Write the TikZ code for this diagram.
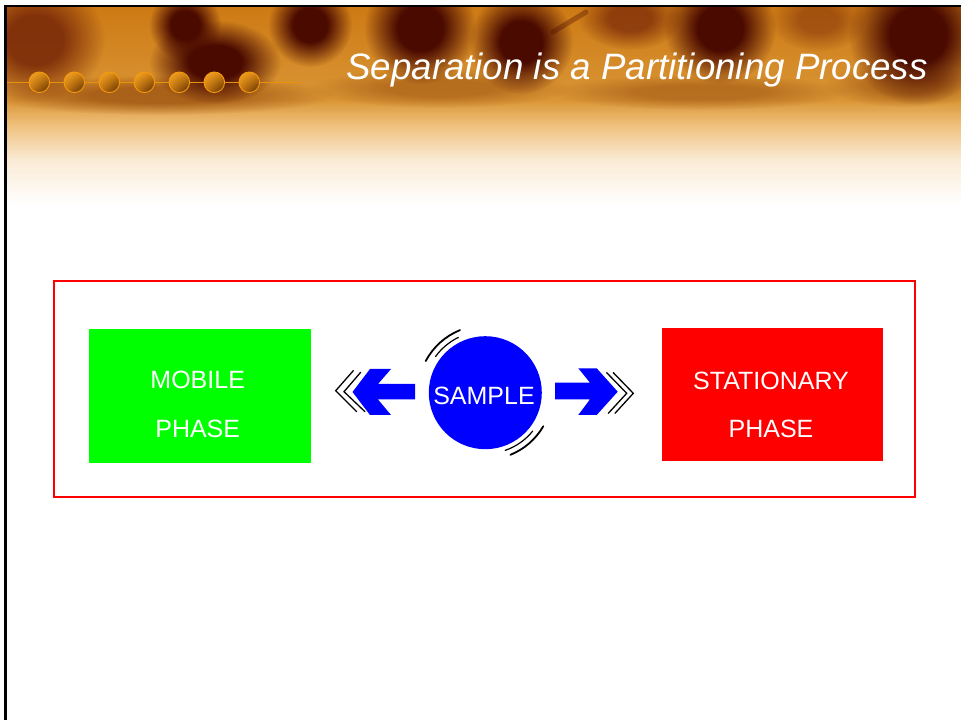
\documentclass[tikz,border=0pt]{standalone}
\usepackage{fontspec}
\setmainfont{Liberation Sans}
\usetikzlibrary{fadings,shadings}
\pgfdeclareradialshading{blobshading}{\pgfpointorigin}{color(0bp)=(pgftransparent!0); color(10bp)=(pgftransparent!0); color(25bp)=(pgftransparent!100); color(50bp)=(pgftransparent!100)}
\pgfdeclarefading{softblob}{\pgfuseshading{blobshading}}
\definecolor{hdrbase}{HTML}{CD7A14}
\definecolor{hdrlow}{HTML}{DA9636}
\definecolor{hdrtan}{HTML}{EFC07C}
\definecolor{hdrpale}{HTML}{FAEBD5}
\definecolor{blobdark}{HTML}{4A0A00}
\definecolor{blobmid}{HTML}{7A2A08}
\definecolor{shadowbrown}{HTML}{9A5010}
\definecolor{dotline}{HTML}{E8920A}
\definecolor{dotedge}{HTML}{F39A0C}
\definecolor{dotUL}{HTML}{F8AA28}
\definecolor{dotUR}{HTML}{D7820F}
\definecolor{dotLL}{HTML}{C8730C}
\definecolor{dotLR}{HTML}{502600}
\definecolor{phasegreen}{HTML}{00FF00}
\tikzset{
  dotball/.style={circle, minimum size=20.6, draw=dotedge, line width=0.9,
    upper left=dotUL, upper right=dotUR, lower left=dotLL, lower right=dotLR},
  phasebox/.style={rectangle, minimum width=221.5, minimum height=133.2},
  boxtext/.style={text=white, anchor=base, font=\fontsize{25}{28}\selectfont},
  titletext/.style={text=white, anchor=base, font=\fontsize{36.7}{40}\selectfont\itshape},
  chevron/.style={line width=1.3, black, line cap=round, line join=miter},
  blob/.style={fill=#1, path fading=softblob},
}
\begin{document}
\begin{tikzpicture}[x=1pt,y=1pt, every node/.style={inner sep=0pt, outer sep=0pt}]
\useasboundingbox (0,0) rectangle (961,720);
\fill[white] (0,0) rectangle (961,720);
% ---------- header background ----------
\shade[top color=hdrbase, bottom color=hdrlow] (6.5,619.9) rectangle (961,712.7);
\shade[top color=hdrlow, bottom color=hdrtan] (6.5,595) rectangle (961,620);
\shade[top color=hdrtan, bottom color=hdrpale] (6.5,560) rectangle (961,595.1);
\shade[top color=hdrpale, bottom color=white] (6.5,515) rectangle (961,560.1);
\begin{scope}
  \clip (6.5,596) rectangle (961,712.7);
  % smeared shadows low in the band
  \fill[blob=shadowbrown, opacity=0.75] (160,625) ellipse (175 and 20);
  \fill[blob=shadowbrown, opacity=0.55] (440,632) ellipse (130 and 20);
  \fill[blob=shadowbrown, opacity=0.55] (700,628) ellipse (150 and 18);
  \fill[blob=shadowbrown, opacity=0.6] (905,635) ellipse (80 and 22);
  % molecule balls
  \fill[blob=blobmid, opacity=0.9] (35,680) ellipse (70 and 62);
  \fill[blob=blobdark] (185,695) circle (36);
  \fill[blob=blobdark] (215,658) ellipse (66 and 42);
  \fill[blob=blobdark] (310,695) circle (42);
  \fill[blob=blobdark] (420,692) circle (56);
  \fill[blob=blobdark] (521,678) circle (52);
  \draw[blobdark, line width=5, opacity=0.35, line cap=round] (553,688) -- (586,708);
  \fill[blob=blobmid, opacity=0.75] (630,702) ellipse (52 and 32);
  \fill[blob=blobdark] (720,692) circle (56);
  \fill[blob=blobmid, opacity=0.5] (818,700) ellipse (48 and 32);
  \fill[blob=blobdark] (918,685) circle (70);
\end{scope}
% ---------- borders ----------
\draw[line width=2.5, black] (5.3,0) -- (5.3,713.9) -- (961,713.9);
% ---------- dots ----------
\coordinate (dlstart) at (6.5,637.7);
\coordinate (dlend) at (300,637.7);
\draw[dotline, line width=1] (dlstart) -- (dlend);
\foreach \xx [count=\n] in {39.3,74.3,109.3,144.3,179.3,214.3,249.3}
  \node[dotball] (dot\n) at (\xx,637.7) {};
% ---------- title ----------
\node[titletext] (title) at (637,640.5) {Separation is a Partitioning Process};
% ---------- frame ----------
\node[draw=red, line width=2, minimum width=861.5, minimum height=216] (frame) at (484.25,331.3) {};
% ---------- phase boxes ----------
\node[phasebox, fill=phasegreen] (mobile) at (200,324) {};
\node[boxtext] (mobA) at (197.7,331) {MOBILE};
\node[boxtext] (mobB) at (197.7,282.3) {PHASE};
\node[phasebox, fill=red] (stationary) at (772.5,325.8) {};
\node[boxtext] (statA) at (771,330.7) {STATIONARY};
\node[boxtext] (statB) at (771,282.3) {PHASE};
% ---------- sample ----------
\node[circle, fill=blue, minimum size=113] (sample) at (485.3,327.3) {};
\node[boxtext] (sampletext) at (484,315) {SAMPLE};
% motion arcs
\draw[line width=1.8, line cap=round] (sample.center) ++(112:67.5) arc[start angle=112, end angle=152, radius=67.5];
\draw[line width=1.2, line cap=round] (sample.center) ++(116:61.5) arc[start angle=116, end angle=144, radius=61.5];
\draw[line width=1.8, line cap=round] (sample.center) ++(-68:67) arc[start angle=-68, end angle=-30, radius=67];
\draw[line width=1.2, line cap=round] (sample.center) ++(-71:61) arc[start angle=-71, end angle=-39, radius=61];
% ---------- arrows ----------
\fill[blue] (352.5,328) -- (370,351) -- (391,351) -- (378,336) -- (415,336) -- (415,320.5)
  -- (378,320.5) -- (391,305) -- (370,305) -- cycle;
\fill[blue] (555,337.3) -- (590,337.3) -- (578.3,351.7) -- (596.7,351.7) -- (617.7,328.3)
  -- (596.7,305) -- (578.3,305) -- (590,320.7) -- (555,320.7) -- cycle;
% chevrons
\draw[chevron] (353.3,349.3) -- (335.7,329.3) -- (356.7,308.3);
\draw[chevron] (360.7,347.7) -- (344,328.3) -- (365,308.3);
\draw[chevron] (606.7,347.3) -- (626.7,326.7) -- (608.3,306.7);
\draw[chevron] (613.3,347.3) -- (633.3,326.7) -- (615,306.7);
\end{tikzpicture}
\end{document}
